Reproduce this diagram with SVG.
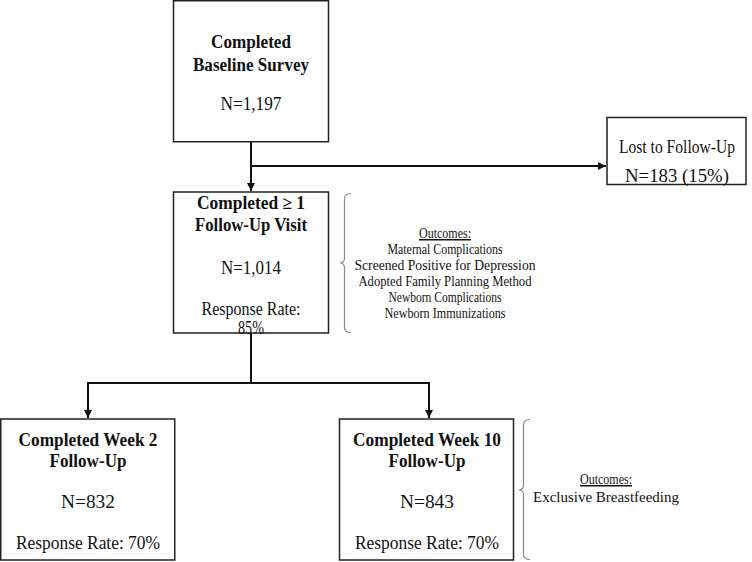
<svg xmlns="http://www.w3.org/2000/svg" width="752" height="562" viewBox="0 0 752 562">
<style>
.box{fill:#fff;stroke:#222;stroke-width:1.5}
.t{font-family:"Liberation Serif","Times New Roman",serif;font-size:18px;fill:#111;text-anchor:middle}
.b{font-weight:bold}
.o{font-family:"Liberation Serif","Times New Roman",serif;font-size:15px;fill:#111;text-anchor:middle}
.u{text-decoration:underline}
.con{fill:none;stroke:#111;stroke-width:2}
.br{fill:none;stroke:#8a8a8a;stroke-width:1.2}
</style>
<defs>
<marker id="ah" viewBox="0 0 10 10" refX="10" refY="5" markerWidth="4" markerHeight="4" orient="auto" markerUnits="strokeWidth">
<path d="M0,0 L10,5 L0,10 z" fill="#111"/>
</marker>
</defs>
<rect width="752" height="562" fill="#fff"/>
<g id="connectors">
<path class="con" d="M251,142 L251,191" marker-end="url(#ah)"/>
<path class="con" d="M251,166 L606,166" marker-end="url(#ah)"/>
<path class="con" d="M251,333 L251,383"/>
<path class="con" d="M88,383 L429,383"/>
<path class="con" d="M88,382 L88,418" marker-end="url(#ah)"/>
<path class="con" d="M429,382 L429,418" marker-end="url(#ah)"/>
</g>
<g id="baseline">
<rect class="box" x="173.5" y="0.75" width="155" height="141"/>
<text class="t b" x="251" y="48" textLength="80" lengthAdjust="spacingAndGlyphs">Completed</text>
<text class="t b" x="251" y="71" textLength="116" lengthAdjust="spacingAndGlyphs">Baseline Survey</text>
<text class="t" x="251" y="110" textLength="61" lengthAdjust="spacingAndGlyphs">N=1,197</text>
</g>
<g id="lost">
<rect class="box" x="607" y="117.5" width="139" height="67"/>
<text class="t" x="677" y="153" textLength="116" lengthAdjust="spacingAndGlyphs">Lost to Follow-Up</text>
<text class="t" x="677" y="182" textLength="104" lengthAdjust="spacingAndGlyphs">N=183 (15%)</text>
</g>
<g id="followup1">
<rect class="box" x="173.5" y="192" width="155" height="141"/>
<text class="t b" x="251" y="209" textLength="108" lengthAdjust="spacingAndGlyphs">Completed ≥ 1</text>
<text class="t b" x="251" y="231" textLength="112" lengthAdjust="spacingAndGlyphs">Follow-Up Visit</text>
<text class="t" x="251" y="274" textLength="60" lengthAdjust="spacingAndGlyphs">N=1,014</text>
<text class="t" x="251" y="315" textLength="99" lengthAdjust="spacingAndGlyphs">Response Rate:</text>
<text class="t" x="251" y="334" textLength="26" lengthAdjust="spacingAndGlyphs">85%</text>
</g>
<g id="outcomes1">
<path class="br" d="M351,193.5 Q344.5,193.5 344.5,199 L344.5,258 Q344.5,263 340,263 Q344.5,263 344.5,268 L344.5,327 Q344.5,332.5 351,332.5"/>
<text class="o u" x="445" y="238" textLength="52" lengthAdjust="spacingAndGlyphs">Outcomes:</text>
<text class="o" x="445" y="254" textLength="115" lengthAdjust="spacingAndGlyphs">Maternal Complications</text>
<text class="o" x="445" y="270" textLength="181" lengthAdjust="spacingAndGlyphs">Screened Positive for Depression</text>
<text class="o" x="445" y="286" textLength="173" lengthAdjust="spacingAndGlyphs">Adopted Family Planning Method</text>
<text class="o" x="445" y="302" textLength="113" lengthAdjust="spacingAndGlyphs">Newborn Complications</text>
<text class="o" x="445" y="318" textLength="121" lengthAdjust="spacingAndGlyphs">Newborn Immunizations</text>
</g>
<g id="week2">
<rect class="box" x="0.75" y="419" width="174" height="141"/>
<text class="t b" x="88" y="446" textLength="139" lengthAdjust="spacingAndGlyphs">Completed Week 2</text>
<text class="t b" x="88" y="467" textLength="77" lengthAdjust="spacingAndGlyphs">Follow-Up</text>
<text class="t" x="88" y="508" textLength="54" lengthAdjust="spacingAndGlyphs">N=832</text>
<text class="t" x="88" y="549" textLength="144" lengthAdjust="spacingAndGlyphs">Response Rate: 70%</text>
</g>
<g id="week10">
<rect class="box" x="339.5" y="419" width="174" height="141"/>
<text class="t b" x="427" y="446" textLength="148" lengthAdjust="spacingAndGlyphs">Completed Week 10</text>
<text class="t b" x="427" y="467" textLength="77" lengthAdjust="spacingAndGlyphs">Follow-Up</text>
<text class="t" x="427" y="508" textLength="54" lengthAdjust="spacingAndGlyphs">N=843</text>
<text class="t" x="427" y="549" textLength="144" lengthAdjust="spacingAndGlyphs">Response Rate: 70%</text>
</g>
<g id="outcomes2">
<path class="br" d="M530,419.5 Q523.5,419.5 523.5,425 L523.5,485 Q523.5,490 519,490 Q523.5,490 523.5,495 L523.5,554 Q523.5,559.5 530,559.5"/>
<text class="o u" x="606" y="484" textLength="52" lengthAdjust="spacingAndGlyphs">Outcomes:</text>
<text class="o" x="606" y="502" textLength="146" lengthAdjust="spacingAndGlyphs">Exclusive Breastfeeding</text>
</g>
</svg>
